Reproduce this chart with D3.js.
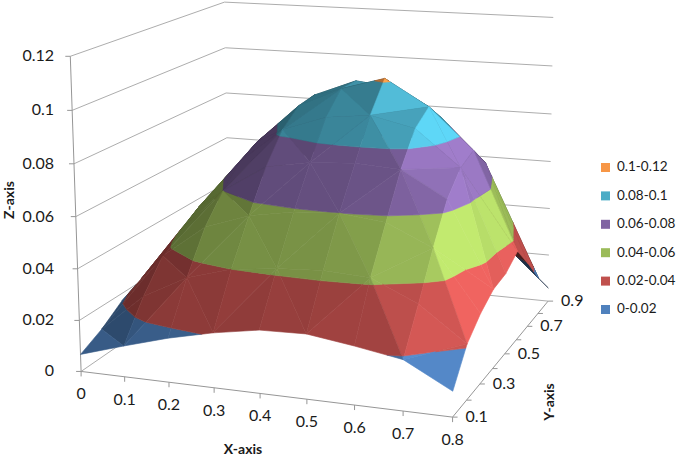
<!DOCTYPE html>
<html>
<head>
<meta charset="utf-8">
<script src="https://cdn.jsdelivr.net/npm/d3@7"></script>
<style>
  html, body { margin: 0; padding: 0; background: #fff; }
  svg { display: block; }
  text { font-family: Lato, "Open Sans", sans-serif; fill: #1a1a1a; }
</style>
</head>
<body>
<div class="chart"></div>
<script>
const xValues = [0, 0.1, 0.2, 0.3, 0.4, 0.5, 0.6, 0.7, 0.8];
const yValues = [0.1, 0.2, 0.3, 0.4, 0.5, 0.6, 0.7, 0.8, 0.9];
const yLabels = [0.1, 0.3, 0.5, 0.7, 0.9];
const zTicks = [0, 0.02, 0.04, 0.06, 0.08, 0.1, 0.12];

// one row per y value, columns follow xValues
const zRows = [
  [.0067, .012, .017, .021, .024, .0245, .022, .019, .0095],
  [.011, .026, .035, .040, .042, .043, .042, .034, .021],
  [.017, .037, .050, .056, .059, .060, .058, .050, .027],
  [.021, .043, .060, .071, .074, .075, .074, .064, .031],
  [.024, .048, .068, .082, .088, .090, .086, .072, .032],
  [.030, .051, .072, .088, .096, .1012, .091, .075, .036],
  [.034, .052, .074, .089, .096, .094, .083, .066, .026],
  [.037, .048, .064, .080, .088, .086, .073, .050, .015],
  [.030, .045, .055, .062, .066, .066, .050, .022, .0057]
];

const bandLabels = ["0-0.02", "0.02-0.04", "0.04-0.06", "0.06-0.08", "0.08-0.1", "0.1-0.12"];
const bandColors = ["#4f81bd", "#c0504d", "#9bbb59", "#8064a2", "#4bacc6", "#f79646"];

const w = 685, h = 458;
const svg = d3.select(".chart").append("svg").attr("width", w).attr("height", h);

const xs = d3.scaleLinear().domain([0, 0.8]).range([0, 1]);
const ys = d3.scaleLinear().domain([0.1, 0.9]).range([0, 1]);
const zs = d3.scaleLinear().domain([0, 0.12]).range([0, 1]);

// box corners, camera gets fitted to them
const boxFit = [
  [0, 0, 0, 81, 369], [1, 0, 0, 453, 419], [1, 1, 0, 548, 299], [0, 1, 0, 229, 272],
  [0, 0, 1, 70, 57], [1, 1, 1, 553, 18], [0, 1, 1, 225, 1]
];

function fitCamera(pts) {
  let rows = [], rhs = [];
  pts.forEach(([u, v, t, sx, sy]) => {
    rows.push([u, v, t, 1, 0, 0, 0, 0, -sx * u, -sx * v, -sx * t]); rhs.push(sx);
    rows.push([0, 0, 0, 0, u, v, t, 1, -sy * u, -sy * v, -sy * t]); rhs.push(sy);
  });
  let n = 11;
  let A = d3.range(n).map(i => d3.range(n).map(j => d3.sum(rows, r => r[i] * r[j])));
  let b = d3.range(n).map(i => d3.sum(rows, (r, k) => r[i] * rhs[k]));
  for (let i = 0; i < n; i++) {
    let p = i;
    for (let k = i + 1; k < n; k++) if (Math.abs(A[k][i]) > Math.abs(A[p][i])) p = k;
    [A[i], A[p]] = [A[p], A[i]]; [b[i], b[p]] = [b[p], b[i]];
    for (let k = i + 1; k < n; k++) {
      let f = A[k][i] / A[i][i];
      for (let j = i; j < n; j++) A[k][j] -= f * A[i][j];
      b[k] -= f * b[i];
    }
  }
  let q = new Array(n).fill(0);
  for (let i = n - 1; i >= 0; i--) {
    let s = b[i];
    for (let j = i + 1; j < n; j++) s -= A[i][j] * q[j];
    q[i] = s / A[i][i];
  }
  return q;
}
const cam = fitCamera(boxFit);

function depth(x, y, z) {
  return cam[8] * xs(x) + cam[9] * ys(y) + cam[10] * zs(z) + 1;
}
function project(x, y, z) {
  let u = xs(x), v = ys(y), t = zs(z), d = depth(x, y, z);
  return [(cam[0] * u + cam[1] * v + cam[2] * t + cam[3]) / d,
          (cam[4] * u + cam[5] * v + cam[6] * t + cam[7]) / d];
}

const line = d3.line();
const gridColor = "#adadad";
const axisColor = "#969696";
function seg(a, b, color) {
  svg.append("path").attr("d", line([project(...a), project(...b)]))
    .attr("fill", "none").attr("stroke", color).attr("stroke-width", 1);
}

// walls, only the level lines and the z axis are drawn
zTicks.forEach(z => {
  seg([0, 0.1, z], [0, 0.9, z], gridColor);
  seg([0, 0.9, z], [0.8, 0.9, z], gridColor);
  let p = project(0, 0.1, z);
  svg.append("path").attr("d", line([[p[0] - 5, p[1]], p])).attr("stroke", axisColor).attr("fill", "none");
  svg.append("text").attr("x", 54).attr("y", p[1] + 1).attr("text-anchor", "end")
    .attr("dominant-baseline", "middle").attr("font-size", 16).text(z);
});
seg([0, 0.1, 0], [0, 0.1, 0.12], axisColor);
seg([0, 0.1, 0], [0.8, 0.1, 0], axisColor);
seg([0.8, 0.1, 0], [0.8, 0.9, 0], axisColor);

xValues.forEach(x => {
  let p = project(x, 0.1, 0);
  svg.append("path").attr("d", line([p, [p[0], p[1] + 5]])).attr("stroke", axisColor).attr("fill", "none");
  svg.append("text").attr("x", p[0]).attr("y", p[1] + 24).attr("text-anchor", "middle")
    .attr("dominant-baseline", "middle").attr("font-size", 16).text(x);
});
yValues.forEach(y => {
  let p = project(0.8, y, 0);
  svg.append("path").attr("d", line([p, [p[0] + 5, p[1]]])).attr("stroke", axisColor).attr("fill", "none");
});
yLabels.forEach(y => {
  let p = project(0.8, y, 0);
  svg.append("text").attr("x", p[0] + 13).attr("y", p[1] + 1).attr("dominant-baseline", "middle")
    .attr("font-size", 16).text(y);
});

// surface: each cell is cut in 2 triangles, diagonals alternate like a checkerboard
function clip(poly, level, keepAbove) {
  let out = [];
  poly.forEach((a, i) => {
    let b = poly[(i + 1) % poly.length];
    let ain = keepAbove ? a[2] >= level : a[2] <= level;
    let bin = keepAbove ? b[2] >= level : b[2] <= level;
    if (ain) out.push(a);
    if (ain !== bin) {
      let t = (level - a[2]) / (b[2] - a[2]);
      out.push([a[0] + t * (b[0] - a[0]), a[1] + t * (b[1] - a[1]), level]);
    }
  });
  return out;
}

const light = [0.75, -0.25, 0.61];
const lightLevel = d3.scaleLinear().domain([0.1, 0.63, 0.88, 0.97]).range([0.56, 0.8, 1.02, 1.25]).clamp(true);
function shade(tri) {
  let p = tri.map(d => [xs(d[0]), ys(d[1]), zs(d[2]) * 0.8]);
  let a = d3.range(3).map(i => p[1][i] - p[0][i]);
  let b = d3.range(3).map(i => p[2][i] - p[0][i]);
  let n = [a[1] * b[2] - a[2] * b[1], a[2] * b[0] - a[0] * b[2], a[0] * b[1] - a[1] * b[0]];
  if (n[2] < 0) n = n.map(d => -d);
  let len = Math.hypot(...n);
  return lightLevel(d3.sum(n, (d, i) => d * light[i]) / len);
}

let tris = [];
for (let j = 0; j < yValues.length - 1; j++) {
  for (let i = 0; i < xValues.length - 1; i++) {
    let a = [xValues[i], yValues[j], zRows[j][i]];
    let b = [xValues[i + 1], yValues[j], zRows[j][i + 1]];
    let c = [xValues[i + 1], yValues[j + 1], zRows[j + 1][i + 1]];
    let e = [xValues[i], yValues[j + 1], zRows[j + 1][i]];
    if ((i + j) % 2 == 0) tris.push([a, b, e], [b, c, e]);
    else tris.push([a, b, c], [a, c, e]);
  }
}
tris.forEach(t => { t.d = d3.mean(t, p => depth(...p)); });
tris.sort((p, q) => q.d - p.d);

tris.forEach(t => {
  let s = project(...t[0]), r = project(...t[1]), q = project(...t[2]);
  // which side of the sheet faces us
  let area = (r[0] - s[0]) * (q[1] - s[1]) - (r[1] - s[1]) * (q[0] - s[0]);
  let f = area > 0 ? 0.36 : shade(t);
  bandColors.forEach((col, k) => {
    let poly = clip(clip(t, k * 0.02, true), (k + 1) * 0.02, false);
    if (poly.length < 3) return;
    let c = d3.rgb(col);
    let fill = d3.rgb(Math.min(255, c.r * f), Math.min(255, c.g * f), Math.min(255, c.b * f)).formatHex();
    svg.append("path").attr("d", line(poly.map(p => project(...p))) + "Z")
      .attr("fill", fill).attr("stroke", fill).attr("stroke-width", 0.6);
  });
});

// titles
svg.append("text").attr("x", 243).attr("y", 450).attr("text-anchor", "middle")
  .attr("dominant-baseline", "middle").attr("font-size", 14).attr("font-weight", 700).text("X-axis");
svg.append("text").attr("transform", "translate(550,402) rotate(-90)").attr("text-anchor", "middle")
  .attr("dominant-baseline", "middle").attr("font-size", 14).attr("font-weight", 700).text("Y-axis");
svg.append("text").attr("transform", "translate(10,200) rotate(-90)").attr("text-anchor", "middle")
  .attr("dominant-baseline", "middle").attr("font-size", 14).attr("font-weight", 700).text("Z-axis");

// legend, top band first
const legendY = d3.scalePoint().domain(d3.range(6)).range([168, 310]);
d3.range(6).forEach(i => {
  let k = 5 - i;
  svg.append("rect").attr("x", 601).attr("y", legendY(i) - 5).attr("width", 9).attr("height", 9)
    .attr("fill", bandColors[k]);
  svg.append("text").attr("x", 617).attr("y", legendY(i)).attr("dominant-baseline", "middle")
    .attr("font-size", 13.5).text(bandLabels[k]);
});
</script>
</body>
</html>
